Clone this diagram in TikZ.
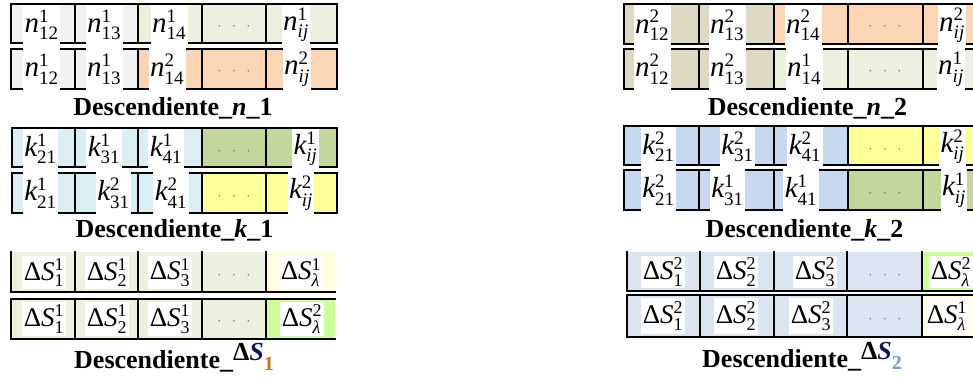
\documentclass[tikz,border=0pt]{standalone}
\usepackage{amsmath}
\usepackage[no-math]{fontspec}
\setmainfont{Liberation Serif}
\newfontfamily\cellfont{Liberation Serif}[NFSSFamily=libs]
\DeclareSymbolFont{letters}{TU}{libs}{m}{it}
\DeclareSymbolFont{operators}{TU}{libs}{m}{n}
\DeclareFontShape{OMS}{cmsy}{m}{n}{<->cmsy10}{\skewchar\font=48}
\DeclareMathSizes{29}{29}{19}{14}
\DeclareMathSizes{27}{27}{18}{13}
\definecolor{cg}{HTML}{F2F2F2}
\definecolor{cgr}{HTML}{EBF1DE}
\definecolor{cpe}{HTML}{FCD5B4}
\definecolor{clb}{HTML}{DAEEF3}
\definecolor{col}{HTML}{C3D69B}
\definecolor{cye}{HTML}{FFFF99}
\definecolor{cly}{HTML}{FFFFE0}
\definecolor{cli}{HTML}{CCFF99}
\definecolor{cta}{HTML}{DDD9C3}
\definecolor{cb2}{HTML}{C6D9F1}
\definecolor{cb3}{HTML}{DBE5F1}
\definecolor{csn}{HTML}{14145A}
\definecolor{csa}{HTML}{C8740E}
\definecolor{csb}{HTML}{6A9BD0}
\newcommand\Dl{\text{Δ}}
\newcommand\lm{\text{\itshape λ}}
\newcommand\cellfill[3]{\foreach \xa/\xb/\cc in {#3}{\fill[\cc] (\xa,#1) rectangle (\xb,#2);}}
\newcommand\rowlines[5]{%
  \foreach \xx in {#3}{\draw[bline] (\xx,#1) -- (\xx,#2);}
  \draw[bline] (#4,#1) -- (#5,#1);
  \draw[bline] (#4,#2) -- (#5,#2);}
\newcommand\rowlinesnt[5]{%
  \foreach \xx in {#3}{\draw[bline] (\xx,#1) -- (\xx,#2);}
  \draw[bline] (#4,#2) -- (#5,#2);}
\newcommand\mnode[5]{\node[mbox, minimum height={#4-#3}] (#1) at (#2,{(#3+#4)/2}) {$#5$};}
\newcommand\dnode[5]{\node[mbox, dbox, minimum height={#4-#3}] (#1) at (#2,{(#3+#4)/2}) {$#5$};}
\begin{document}
\begin{tikzpicture}[x=1pt,y=-1pt,
  bline/.style={line width=1.6pt, black, line cap=rect},
  mbox/.style={fill=white, inner xsep=1.5pt, inner ysep=0pt, font=\fontsize{29}{32}\selectfont},
  dbox/.style={font=\fontsize{27}{29}\selectfont},
  dotn/.style={inner sep=0pt, text=black!65, font=\fontsize{13}{13}\selectfont},
  lbl/.style={anchor=base, inner sep=0pt, font=\fontsize{26}{30}\selectfont\bfseries}]
\useasboundingbox (0,0) rectangle (973,376);
\clip (0,0) rectangle (973,376);
% ---------------- fills ----------------
\cellfill{4}{43}{11/75/cg,75/138/cg,138/202/cgr,202/266/cgr,266/337/cgr}
\cellfill{49}{89}{11/75/cg,75/138/cg,138/202/cpe,202/266/cpe,266/337/cpe}
\cellfill{128}{167}{12/75/clb,75/138/clb,138/202/clb,202/266/col,266/337/col}
\cellfill{173}{213}{12/75/clb,75/138/clb,138/202/clb,202/266/cye,266/337/cye}
\cellfill{252}{292}{11/75/cgr,75/138/cgr,138/202/cgr,202/266/cgr,266/335/cly}
\cellfill{299}{339}{11/75/cgr,75/138/cgr,138/202/cgr,202/266/cgr,266/335/cli}
\cellfill{4}{44}{624/699/cta,699/774/cta,774/848/cpe,848/923/cpe,923/1000/cpe}
\cellfill{49}{89}{624/699/cta,699/774/cta,774/848/cgr,848/923/cgr,923/1000/cgr}
\cellfill{126}{165}{624/699/cb2,699/774/cb2,774/848/cb2,848/923/cye,923/1000/cye}
\cellfill{170}{210}{624/699/cb2,699/774/cb2,774/848/cb2,848/923/col,923/1000/col}
\cellfill{252}{291}{627/700/cb3,700/774/cb3,774/847/cb3,847/922/cb3,922/1000/cli}
\cellfill{295}{337}{627/700/cb3,700/774/cb3,774/847/cb3,847/922/cb3,922/1000/cly}
% ---------------- lines ----------------
\rowlines{4}{43}{11,75,138,202,266,337}{11}{337}
\rowlines{49}{89}{11,75,138,202,266,337}{11}{337}
\rowlines{128}{167}{12,75,138,202,266,337}{12}{337}
\rowlines{173}{213}{12,75,138,202,266,337}{12}{337}
\rowlinesnt{252}{292}{11,75,138,202,266}{11}{335}
\rowlines{299}{339}{11,75,138,202,266}{11}{335}
\rowlines{4}{44}{624,699,774,848,923}{624}{1000}
\rowlines{49}{89}{624,699,774,848,923}{624}{1000}
\rowlines{126}{165}{624,699,774,848,923}{624}{1000}
\rowlines{170}{210}{624,699,774,848,923}{624}{1000}
\rowlinesnt{252}{291}{627,700,774,847,922}{627}{1000}
\rowlines{295}{337}{627,700,774,847,922}{627}{1000}
% ---------------- math cells ----------------
\mnode{La1}{41.5}{5}{44.5}{n^1_{12}}
\mnode{La2}{104}{5}{44.5}{n^1_{13}}
\mnode{La3}{169}{5}{44.5}{n^1_{14}}
\mnode{La5}{296}{5}{44.5}{n^1_{ij}}
\mnode{Lb1}{41.5}{48}{90}{n^1_{12}}
\mnode{Lb2}{104}{48}{90}{n^1_{13}}
\mnode{Lb3}{167}{48}{90}{n^2_{14}}
\mnode{Lb5}{297}{48}{90}{n^2_{ij}}
\mnode{Lc1}{40.5}{129}{168.5}{k^1_{21}}
\mnode{Lc2}{104}{129}{168.5}{k^1_{31}}
\mnode{Lc3}{166}{129}{168.5}{k^1_{41}}
\mnode{Lc5}{305.5}{129}{168.5}{k^1_{ij}}
\mnode{Ld1}{40.5}{172}{214}{k^1_{21}}
\mnode{Ld2}{113.5}{172}{214}{k^2_{31}}
\mnode{Ld3}{171}{172}{214}{k^2_{41}}
\mnode{Ld5}{301}{172}{214}{k^2_{ij}}
\dnode{Le1}{44}{256}{289}{\Dl S^1_1}
\dnode{Le2}{107}{256}{289}{\Dl S^1_2}
\dnode{Le3}{170}{256}{289}{\Dl S^1_3}
\dnode{Le5}{301}{256}{289}{\Dl S^1_{\lm}}
\dnode{Lf1}{44}{302}{336}{\Dl S^1_1}
\dnode{Lf2}{107}{302}{336}{\Dl S^1_2}
\dnode{Lf3}{170}{302}{336}{\Dl S^1_3}
\dnode{Lf5}{302}{302}{336}{\Dl S^2_{\lm}}
\mnode{Ra1}{652}{5}{45.5}{n^2_{12}}
\mnode{Ra2}{727}{5}{45.5}{n^2_{13}}
\mnode{Ra3}{803}{5}{45.5}{n^2_{14}}
\mnode{Ra5}{952}{5}{45.5}{n^2_{ij}}
\mnode{Rb1}{652}{48}{90}{n^2_{12}}
\mnode{Rb2}{727}{48}{90}{n^2_{13}}
\mnode{Rb3}{804}{48}{90}{n^1_{14}}
\mnode{Rb5}{951}{48}{90}{n^1_{ij}}
\mnode{Rc1}{658.5}{127}{166.5}{k^2_{21}}
\mnode{Rc2}{737.5}{127}{166.5}{k^2_{31}}
\mnode{Rc3}{805}{127}{166.5}{k^2_{41}}
\mnode{Rc5}{952.5}{127}{166.5}{k^2_{ij}}
\mnode{Rd1}{658.5}{169}{211}{k^2_{21}}
\mnode{Rd2}{727.5}{169}{211}{k^1_{31}}
\mnode{Rd3}{801}{169}{211}{k^1_{41}}
\mnode{Rd5}{954}{169}{211}{k^1_{ij}}
\dnode{Re1}{663}{256}{288}{\Dl S^2_1}
\dnode{Re2}{736}{256}{288}{\Dl S^2_2}
\dnode{Re3}{815}{256}{288}{\Dl S^2_3}
\dnode{Re5}{951}{256}{288}{\Dl S^2_{\lm}}
\dnode{Rf1}{663}{298}{334}{\Dl S^2_1}
\dnode{Rf2}{736}{298}{334}{\Dl S^2_2}
\dnode{Rf3}{811}{298}{334}{\Dl S^2_3}
\dnode{Rf5}{947}{298}{334}{\Dl S^1_{\lm}}
% ---------------- dots ----------------
\foreach \nm/\xx/\yy in {Da/234/27,Db/234/72,Dc/234/152,Dd/234/197,De/234/276,Df/234/322,
  Dg/885/27,Dh/885/72,Di/885/150,Dj/885/194,Dk/885/276,Dl/885/320}
  {\node[dotn] (\nm) at (\xx,\yy) {$\cdot\hspace{8pt}\cdot\hspace{8pt}\cdot$};}
% ---------------- labels ----------------
\node[lbl] (T1) at (173,115) {Descendiente\_\textit{n}\_1};
\node[lbl] (T2) at (174.5,237) {Descendiente\_\textit{k}\_1};
\node[lbl] (T3) at (174,368) {Descendiente\_\raisebox{8pt}{Δ\textit{\textcolor{csn}{S}}}\raisebox{-2pt}{\fontsize{20}{20}\selectfont\textcolor{csa}{1}}};
\node[lbl] (T4) at (807.5,115) {Descendiente\_\textit{n}\_2};
\node[lbl] (T5) at (804.5,237) {Descendiente\_\textit{k}\_2};
\node[lbl] (T6) at (802,367) {Descendiente\_\raisebox{8pt}{Δ\textit{\textcolor{csn}{S}}}\raisebox{-2pt}{\fontsize{20}{20}\selectfont\textcolor{csb}{2}}};
\end{tikzpicture}
\end{document}
